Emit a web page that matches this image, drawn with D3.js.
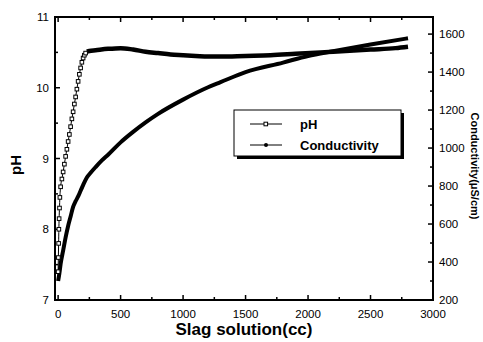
<!DOCTYPE html>
<html>
<head>
<meta charset="utf-8">
<script src="https://cdn.jsdelivr.net/npm/d3@7"></script>
<style>
  body { margin: 0; background: #fff; }
  text { font-family: Arial, "Liberation Sans", sans-serif; fill: #000; }
</style>
</head>
<body>
<script>
// ---------------- data ----------------
let phVolume = [0, 2, 4, 6, 8, 11, 14, 20, 30, 40, 50, 60, 70, 80, 90, 100, 110, 120, 130, 140,
                150, 160, 170, 180, 190, 200, 210, 220, 230, 250, 300, 400, 500, 600, 700, 800,
                900, 1000, 1100, 1200, 1300, 1500, 1700, 1900, 2100, 2300, 2500, 2700, 2800];
let phValues = [7.4, 7.6, 7.8, 8.0, 8.15, 8.3, 8.45, 8.6, 8.71, 8.81, 8.92, 9.03, 9.13, 9.24, 9.34,
                9.45, 9.56, 9.66, 9.77, 9.87, 9.98, 10.09, 10.19, 10.28, 10.36, 10.42, 10.46, 10.49,
                10.51, 10.52, 10.53, 10.55, 10.56, 10.54, 10.51, 10.49, 10.47, 10.46, 10.45, 10.44,
                10.44, 10.45, 10.46, 10.48, 10.5, 10.52, 10.54, 10.56, 10.58];

let condVolume = [0, 10, 20, 40, 60, 80, 100, 120, 140, 160, 180, 200, 230, 260, 300, 350, 400, 500,
                  600, 700, 800, 1000, 1200, 1300, 1500, 1800, 2000, 2200, 2500, 2800];
let condValues = [300, 340, 390, 460, 530, 590, 640, 690, 720, 745, 775, 805, 845, 870, 900, 935,
                  965, 1030, 1085, 1135, 1180, 1255, 1320, 1347, 1400, 1450, 1485, 1510, 1545, 1578];

let xTicks = [0, 500, 1000, 1500, 2000, 2500, 3000];
let phTicks = [7, 8, 9, 10, 11];
let condTicks = [200, 400, 600, 800, 1000, 1200, 1400, 1600];

let phData = phVolume.map((v, i) => ({ x: v, y: phValues[i] }));
let condData = condVolume.map((v, i) => ({ x: v, y: condValues[i] }));

// ---------------- layout ----------------
let W = 483, H = 342;
let L = 55, R = 433, T = 17, B = 300;

let svg = d3.select('body').append('svg')
    .attr('width', W).attr('height', H);

let x = d3.scaleLinear().domain([-25, 3000]).range([L, R]);
let yPh = d3.scaleLinear().domain([7, 11]).range([B, T]);
let yCond = d3.scaleLinear().domain([200, 1690]).range([B, T]);

// ============================== AXES ==============================
let tickFont = '11.5px';

let axes = svg.append('g').attr('stroke', '#000').attr('fill', 'none');

// frame
axes.append('path')
    .attr('stroke-width', 2)
    .attr('d', 'M' + L + ',' + T + 'H' + R + 'V' + B + 'H' + L + 'Z');

// x ticks, bottom and top, pointing inward
d3.range(0, 3001, 250).forEach(function (v) {
    let len = (v % 500 === 0) ? 5 : 3;
    axes.append('line').attr('x1', x(v)).attr('x2', x(v)).attr('y1', B).attr('y2', B - len).attr('stroke-width', 1.5);
    axes.append('line').attr('x1', x(v)).attr('x2', x(v)).attr('y1', T).attr('y2', T + len).attr('stroke-width', 1.5);
});

// left ticks
d3.range(7, 11.01, 0.5).forEach(function (v) {
    let len = (Math.abs(v - Math.round(v)) < 1e-6) ? 5 : 3;
    axes.append('line').attr('x1', L).attr('x2', L + len).attr('y1', yPh(v)).attr('y2', yPh(v)).attr('stroke-width', 1.5);
});

// right ticks
d3.range(200, 1690, 100).forEach(function (v) {
    let len = (v % 200 === 0) ? 5 : 3;
    axes.append('line').attr('x1', R).attr('x2', R - len).attr('y1', yCond(v)).attr('y2', yCond(v)).attr('stroke-width', 1.5);
});

// tick labels
svg.selectAll('.xlab').data(xTicks).enter()
    .append('text')
        .attr('x', d => x(d))
        .attr('y', B + 18)
        .attr('text-anchor', 'middle')
        .attr('font-size', tickFont)
        .text(d => d);

svg.selectAll('.phlab').data(phTicks).enter()
    .append('text')
        .attr('x', L - 6)
        .attr('y', d => yPh(d) + 4)
        .attr('text-anchor', 'end')
        .attr('font-size', tickFont)
        .text(d => d);

svg.selectAll('.condlab').data(condTicks).enter()
    .append('text')
        .attr('x', R + 6)
        .attr('y', d => yCond(d) + 4)
        .attr('text-anchor', 'start')
        .attr('font-size', tickFont)
        .text(d => d);

// axis titles
svg.append('text')
    .attr('x', 244)
    .attr('y', 335)
    .attr('text-anchor', 'middle')
    .attr('font-size', '17px')
    .attr('font-weight', 'bold')
    .text('Slag solution(cc)');

svg.append('text')
    .attr('transform', 'translate(21,' + 165 + ') rotate(-90)')
    .attr('text-anchor', 'middle')
    .attr('font-size', '15px')
    .attr('font-weight', 'bold')
    .text('pH');

svg.append('text')
    .attr('transform', 'translate(471,' + 166 + ') rotate(90)')
    .attr('text-anchor', 'middle')
    .attr('font-size', '11px')
    .attr('font-weight', 'bold')
    .text('Conductivity(μS/cm)');

// ============================== SERIES ==============================
let phLine = d3.line().x(d => x(d.x)).y(d => yPh(d.y)).curve(d3.curveMonotoneX);
let condLine = d3.line().x(d => x(d.x)).y(d => yCond(d.y)).curve(d3.curveMonotoneX);

// conductivity: dense filled markers merge into a thick line
svg.append('path')
    .attr('fill', 'none')
    .attr('stroke', '#000')
    .attr('stroke-width', 4)
    .attr('stroke-linejoin', 'round')
    .attr('d', condLine(condData));

// pH thin line through all points
svg.append('path')
    .attr('fill', 'none')
    .attr('stroke', '#000')
    .attr('stroke-width', 1)
    .attr('d', phLine(phData));

// pH dense part looks like a thick band
svg.append('path')
    .attr('fill', 'none')
    .attr('stroke', '#000')
    .attr('stroke-width', 4.5)
    .attr('stroke-linejoin', 'round')
    .attr('d', phLine(phData.filter(d => d.x >= 225)));

// pH open squares in the steep part
svg.selectAll('.phsq').data(phData.filter(d => d.x < 225)).enter()
    .append('rect')
        .attr('x', d => x(d.x) - 1.8)
        .attr('y', d => yPh(d.y) - 1.8)
        .attr('width', 3.6)
        .attr('height', 3.6)
        .attr('fill', '#fff')
        .attr('stroke', '#000')
        .attr('stroke-width', 1);

// ============================== LEGEND ==============================
let lg = svg.append('g');
lg.append('rect')
    .attr('x', 237).attr('y', 113).attr('width', 167).attr('height', 46)
    .attr('fill', '#000');
lg.append('rect')
    .attr('x', 234).attr('y', 110).attr('width', 167).attr('height', 46)
    .attr('fill', '#fff').attr('stroke', '#000').attr('stroke-width', 1);

let legendItems = ['pH', 'Conductivity'];
legendItems.forEach(function (name, i) {
    let yy = 124 + i * 21;
    lg.append('line')
        .attr('x1', 250).attr('x2', 282).attr('y1', yy).attr('y2', yy)
        .attr('stroke', '#000').attr('stroke-width', 1);
    if (i === 0) {
        lg.append('rect')
            .attr('x', 264).attr('y', yy - 1.8).attr('width', 3.6).attr('height', 3.6)
            .attr('fill', '#fff').attr('stroke', '#000');
    } else {
        lg.append('circle')
            .attr('cx', 266).attr('cy', yy).attr('r', 2)
            .attr('fill', '#000');
    }
    lg.append('text')
        .attr('x', 300).attr('y', yy + 5)
        .attr('font-size', '13px')
        .attr('font-weight', 'bold')
        .text(name);
});
</script>
</body>
</html>
